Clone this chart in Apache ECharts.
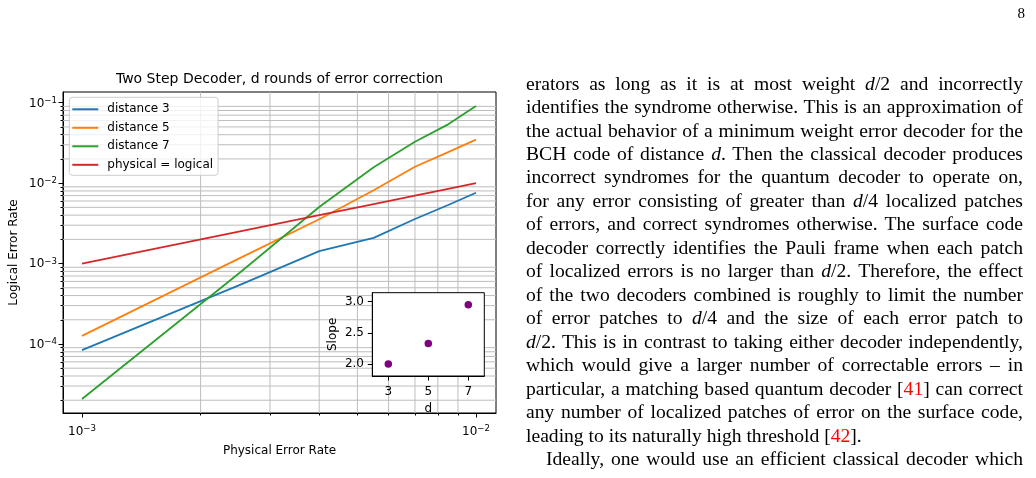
<!DOCTYPE html>
<html>
<head>
<meta charset="utf-8">
<script src="https://cdn.jsdelivr.net/npm/echarts@6/dist/echarts.min.js"></script>
<style>
  html, body { margin: 0; padding: 0; background: #fff; }
  #chart { position: absolute; left: 0; top: 0; width: 1036px; height: 478px; }
  #pagenum { position: absolute; right: 11px; top: 5.7px; font-family: 'Liberation Serif', serif; font-size: 15px; line-height: 15px; color: #000; }
  #text { position: absolute; left: 526px; top: 71.6px; width: 497px; font-family: 'Liberation Serif', serif; font-size: 19.6px; line-height: 23.47px; color: #000; }
  #text .l { text-align: justify; text-align-last: justify; }
  #text .e { text-align: left; text-align-last: left; }
  #text .ind { text-indent: 20px; }
  #text .ref { color: #ff0000; }
</style>
</head>
<body>
<div id="chart"></div>
<div id="pagenum">8</div>
<div id="text">
  <div class="l">erators as long as it is at most weight <i>d</i>/2 and incorrectly</div>
  <div class="l">identifies the syndrome otherwise. This is an approximation of</div>
  <div class="l">the actual behavior of a minimum weight error decoder for the</div>
  <div class="l">BCH code of distance <i>d</i>. Then the classical decoder produces</div>
  <div class="l">incorrect syndromes for the quantum decoder to operate on,</div>
  <div class="l">for any error consisting of greater than <i>d</i>/4 localized patches</div>
  <div class="l">of errors, and correct syndromes otherwise. The surface code</div>
  <div class="l">decoder correctly identifies the Pauli frame when each patch</div>
  <div class="l">of localized errors is no larger than <i>d</i>/2. Therefore, the effect</div>
  <div class="l">of the two decoders combined is roughly to limit the number</div>
  <div class="l">of error patches to <i>d</i>/4 and the size of each error patch to</div>
  <div class="l"><i>d</i>/2. This is in contrast to taking either decoder independently,</div>
  <div class="l">which would give a larger number of correctable errors – in</div>
  <div class="l">particular, a matching based quantum decoder [<span class="ref">41</span>] can correct</div>
  <div class="l">any number of localized patches of error on the surface code,</div>
  <div class="e">leading to its naturally high threshold [<span class="ref">42</span>].</div>
  <div class="l ind">Ideally, one would use an efficient classical decoder which</div>
</div>
<script>
// ---- data ----
const physicalErrorRate = [0.001, 0.0025, 0.004, 0.0055, 0.007, 0.0085, 0.01];
const distance3 = [8.4e-5, 5.35e-4, 1.43e-3, 2.09e-3, 3.58e-3, 5.34e-3, 7.6e-3];
const distance5 = [1.26e-4, 1.15e-3, 3.56e-3, 8.16e-3, 1.6e-2, 2.43e-2, 3.47e-2];
const distance7 = [2.07e-5, 7.53e-4, 5.05e-3, 1.58e-2, 3.27e-2, 5.38e-2, 9.1e-2];
const physicalEqualsLogical = [0.001, 0.0025, 0.004, 0.0055, 0.007, 0.0085, 0.01];
const seriesNames = ['distance 3', 'distance 5', 'distance 7', 'physical = logical'];

const insetDistance = [3, 5, 7];
const insetSlope = [2.0, 2.33, 2.95];

// ---- axis ranges and tick values ----
const xAxisMin = Math.pow(10, -3.0482), xAxisMax = Math.pow(10, -1.9492);
const yAxisMin = Math.pow(10, -4.858), yAxisMax = Math.pow(10, -0.867);
const xMajorTicks = [0.001, 0.01];
const xMinorTicks = [0.002, 0.003, 0.004, 0.005, 0.006, 0.007, 0.008, 0.009];
const yMajorTicks = [0.0001, 0.001, 0.01, 0.1];
const yMinorTicks = [
  0.00002, 0.00003, 0.00004, 0.00005, 0.00006, 0.00007, 0.00008, 0.00009,
  0.0002, 0.0003, 0.0004, 0.0005, 0.0006, 0.0007, 0.0008, 0.0009,
  0.002, 0.003, 0.004, 0.005, 0.006, 0.007, 0.008, 0.009,
  0.02, 0.03, 0.04, 0.05, 0.06, 0.07, 0.08, 0.09
];
const insetXTicks = [3, 5, 7];
const insetYTicks = [2.0, 2.5, 3.0];

const colors = ['#1f77b4', '#ff7f0e', '#2ca02c', '#d62728'];
const FONT = 'DejaVu Sans';
const GRID_COLOR = '#bdbdbd';

function powLabel(v) {
  const e = Math.round(Math.log10(v));
  return '{b|10}{e|' + String(e).replace('-', '\u2212') + '}';
}
const powRich = {
  b: {fontFamily: FONT, fontSize: 12, color: '#000', verticalAlign: 'bottom'},
  e: {fontFamily: FONT, fontSize: 8.6, color: '#000', verticalAlign: 'bottom', padding: [0, 0, 4.5, 0]}
};

const chart = echarts.init(document.getElementById('chart'), null, {renderer: 'canvas'});

function pairs(arr) { return physicalErrorRate.map((x, i) => [x, arr[i]]); }

const axisLineStyle = {color: '#000', width: 1};
const labelStyle = {fontFamily: FONT, fontSize: 12, color: '#000'};

// minor grid lines, drawn as data-space line segments through the log axes
const gridSeries = [];
xMinorTicks.forEach(v => gridSeries.push({
  type: 'line', xAxisIndex: 0, yAxisIndex: 0, silent: true, z: 1, symbol: 'none',
  data: [[v, yAxisMin], [v, yAxisMax]],
  lineStyle: {color: GRID_COLOR, width: 1}, emphasis: {disabled: true}, tooltip: {show: false}
}));
yMinorTicks.forEach(v => gridSeries.push({
  type: 'line', xAxisIndex: 0, yAxisIndex: 0, silent: true, z: 1, symbol: 'none',
  data: [[xAxisMin, v], [xAxisMax, v]],
  lineStyle: {color: GRID_COLOR, width: 1}, emphasis: {disabled: true}, tooltip: {show: false}
}));

const option = {
  animation: false,
  backgroundColor: 'transparent',
  title: {
    text: 'Two Step Decoder, d rounds of error correction',
    left: 279.5, top: 71.5, textAlign: 'center', padding: 0,
    textStyle: {fontFamily: FONT, fontSize: 14, fontWeight: 'normal', color: '#000', lineHeight: 16}
  },
  legend: {
    data: seriesNames,
    orient: 'vertical',
    left: 69.3, top: 97.3,
    padding: [5, 5, 3.5, 3],
    itemWidth: 26, itemHeight: 2, itemGap: 4.5,
    icon: 'rect',
    textStyle: {fontFamily: FONT, fontSize: 12, color: '#000', lineHeight: 14, padding: [0, 0, 0, 4]},
    backgroundColor: 'rgba(255,255,255,0.8)',
    borderColor: '#cccccc', borderWidth: 1, borderRadius: 3,
    z: 10
  },
  grid: [
    {left: 63, top: 92, width: 433, height: 321, show: true, borderColor: '#000', borderWidth: 1, backgroundColor: 'transparent', outerBoundsMode: 'none', containLabel: false},
    {left: 372.3, top: 292.7, width: 112, height: 83.3, show: true, borderColor: '#000', borderWidth: 1, backgroundColor: '#fff', z: 5, outerBoundsMode: 'none', containLabel: false}
  ],
  xAxis: [
    {
      gridIndex: 0, type: 'log', logBase: 10, min: xAxisMin, max: xAxisMax,
      position: 'bottom',
      axisLine: {show: true, lineStyle: axisLineStyle},
      axisTick: {show: true, customValues: xMajorTicks, length: 4.5, lineStyle: axisLineStyle},
      axisLabel: {show: true, customValues: xMajorTicks, margin: 11, formatter: powLabel, rich: powRich},
      splitLine: {show: false}, minorTick: {show: false}, minorSplitLine: {show: false},
      name: 'Physical Error Rate', nameLocation: 'middle', nameGap: 32,
      nameTextStyle: {fontFamily: FONT, fontSize: 12, color: '#000'}
    },
    {
      gridIndex: 0, type: 'log', logBase: 10, min: xAxisMin, max: xAxisMax,
      position: 'bottom',
      axisLine: {show: false},
      axisTick: {show: true, customValues: xMinorTicks, length: 2.5, lineStyle: axisLineStyle},
      axisLabel: {show: false},
      splitLine: {show: false}
    },
    {
      gridIndex: 1, type: 'value', min: 2.2, max: 7.8, z: 6,
      axisLine: {show: true, lineStyle: axisLineStyle},
      axisTick: {show: true, customValues: insetXTicks, length: 4.5, lineStyle: axisLineStyle},
      axisLabel: Object.assign({show: true, customValues: insetXTicks, margin: 10}, labelStyle),
      splitLine: {show: false},
      name: 'd', nameLocation: 'middle', nameGap: 27,
      nameTextStyle: {fontFamily: FONT, fontSize: 12, color: '#000'}
    }
  ],
  yAxis: [
    {
      gridIndex: 0, type: 'log', logBase: 10, min: yAxisMin, max: yAxisMax,
      position: 'left',
      axisLine: {show: true, lineStyle: axisLineStyle},
      axisTick: {show: true, customValues: yMajorTicks, length: 4.5, lineStyle: axisLineStyle},
      axisLabel: {show: true, customValues: yMajorTicks, margin: 6, formatter: powLabel, rich: powRich},
      splitLine: {show: false}, minorTick: {show: false}, minorSplitLine: {show: false},
      name: 'Logical Error Rate', nameLocation: 'middle', nameGap: 43, nameRotate: 90,
      nameTextStyle: {fontFamily: FONT, fontSize: 12, color: '#000'}
    },
    {
      gridIndex: 0, type: 'log', logBase: 10, min: yAxisMin, max: yAxisMax,
      position: 'left',
      axisLine: {show: false},
      axisTick: {show: true, customValues: yMinorTicks, length: 2.5, lineStyle: axisLineStyle},
      axisLabel: {show: false},
      splitLine: {show: false}
    },
    {
      gridIndex: 1, type: 'value', min: 1.808, max: 3.143, z: 6,
      axisLine: {show: true, lineStyle: axisLineStyle},
      axisTick: {show: true, customValues: insetYTicks, length: 4.5, lineStyle: axisLineStyle},
      axisLabel: Object.assign({show: true, customValues: insetYTicks, margin: 8.3, formatter: v => v.toFixed(1)}, labelStyle),
      splitLine: {show: false},
      name: 'Slope', nameLocation: 'middle', nameGap: 33.6, nameRotate: 90,
      nameTextStyle: {fontFamily: FONT, fontSize: 12, color: '#000'}
    }
  ],
  series: gridSeries.concat([
    {name: seriesNames[0], type: 'line', xAxisIndex: 0, yAxisIndex: 0, data: pairs(distance3), symbol: 'none', z: 3, lineStyle: {color: colors[0], width: 1.8}, itemStyle: {color: colors[0]}},
    {name: seriesNames[1], type: 'line', xAxisIndex: 0, yAxisIndex: 0, data: pairs(distance5), symbol: 'none', z: 3, lineStyle: {color: colors[1], width: 1.8}, itemStyle: {color: colors[1]}},
    {name: seriesNames[2], type: 'line', xAxisIndex: 0, yAxisIndex: 0, data: pairs(distance7), symbol: 'none', z: 3, lineStyle: {color: colors[2], width: 1.8}, itemStyle: {color: colors[2]}},
    {name: seriesNames[3], type: 'line', xAxisIndex: 0, yAxisIndex: 0, data: pairs(physicalEqualsLogical), symbol: 'none', z: 3, lineStyle: {color: colors[3], width: 1.8}, itemStyle: {color: colors[3]}},
    {
      name: 'slope', type: 'scatter', xAxisIndex: 2, yAxisIndex: 2, z: 7,
      data: insetDistance.map((d, i) => [d, insetSlope[i]]),
      symbol: 'circle', symbolSize: 7.5, itemStyle: {color: '#800080', opacity: 1}
    }
  ])
};
chart.setOption(option);
</script>
</body>
</html>
